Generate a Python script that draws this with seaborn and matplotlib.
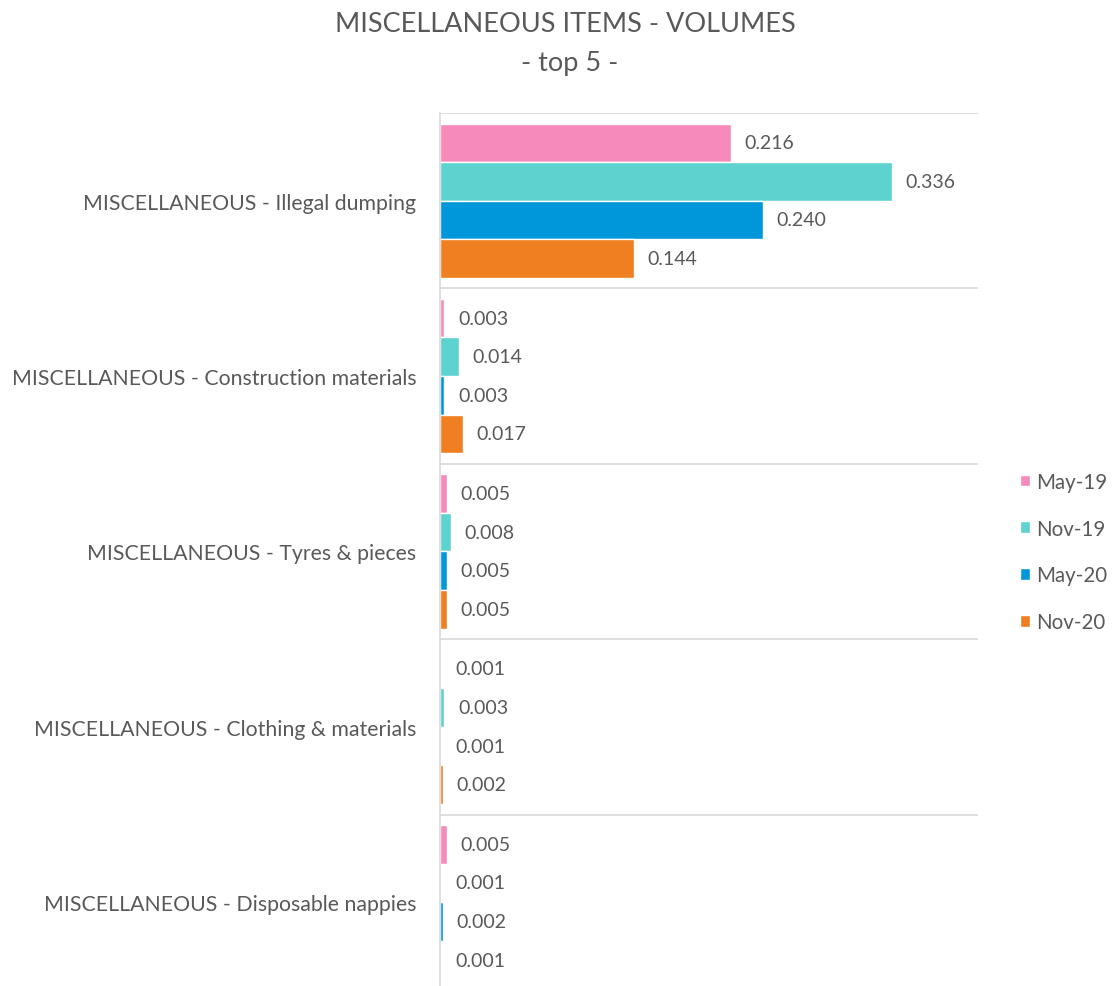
import numpy as np
import pandas as pd
import matplotlib
matplotlib.use("Agg")
import matplotlib.pyplot as plt
import seaborn as sns

# Data
categories = [
    "MISCELLANEOUS - Illegal dumping",
    "MISCELLANEOUS - Construction materials",
    "MISCELLANEOUS - Tyres & pieces",
    "MISCELLANEOUS - Clothing & materials",
    "MISCELLANEOUS - Disposable nappies",
]
periods = ["May-19", "Nov-19", "May-20", "Nov-20"]
may19 = [0.216, 0.003, 0.005, 0.001, 0.005]
nov19 = [0.336, 0.014, 0.008, 0.003, 0.001]
may20 = [0.240, 0.003, 0.005, 0.001, 0.002]
nov20 = [0.144, 0.017, 0.005, 0.002, 0.001]
colors = ["#F68BBB", "#5DD3CF", "#0097DA", "#F07F21"]

# Long format for seaborn
df = pd.DataFrame({
    "item": categories * 4,
    "period": np.repeat(periods, len(categories)),
    "value": may19 + nov19 + may20 + nov20,
})

sns.set_style("white")
plt.rcParams["font.family"] = ["Lato", "DejaVu Sans"]
text_col = "#595959"
grid_col = "#D9D9D9"

fig = plt.figure(figsize=(11.16, 9.87), dpi=100)
ax = fig.add_axes([440 / 1116, -0.004, 538 / 1116, 1 - 114 / 987 + 0.004])

sns.barplot(data=df, y="item", x="value", hue="period", order=categories,
            hue_order=periods, palette=colors, orient="h", width=0.88,
            saturation=1, ax=ax)

for cont in ax.containers:
    ax.bar_label(cont, fmt="%.3f", padding=10, fontsize=14, color=text_col)

ax.set_xlim(0, 0.4)
ax.set_ylim(len(categories) - 0.5, -0.5)
ax.set_xticks([])
ax.set_xlabel("")
ax.set_ylabel("")
ax.tick_params(axis="y", length=0, pad=17, labelsize=15.3, labelcolor=text_col)

# separators between categories
ax.set_yticks(np.arange(len(categories) + 1) - 0.5, minor=True)
ax.tick_params(axis="y", which="minor", length=0)
ax.grid(which="minor", axis="y", color=grid_col, linewidth=1.2)
ax.grid(which="major", visible=False)

for s in ["top", "right", "bottom"]:
    ax.spines[s].set_visible(False)
ax.spines["left"].set_color(grid_col)
ax.spines["left"].set_linewidth(1.2)

leg = ax.legend(loc="center left", bbox_to_anchor=(1016 / 1116, 1 - 553 / 987),
                bbox_transform=fig.transFigure, frameon=False, fontsize=14.8,
                handlelength=0.5, handleheight=0.5, handletextpad=0.3,
                labelspacing=1.3, borderpad=0.2, borderaxespad=0)
for t in leg.get_texts():
    t.set_color(text_col)

fig.text(0.507, 1 - 24 / 987, "MISCELLANEOUS ITEMS - VOLUMES", ha="center", va="center",
         fontsize=19.5, color=text_col)
fig.text(0.51, 1 - 63 / 987, "- top 5 -", ha="center", va="center",
         fontsize=19.5, color=text_col)

fig.savefig("out.png", dpi=100, facecolor="white")
